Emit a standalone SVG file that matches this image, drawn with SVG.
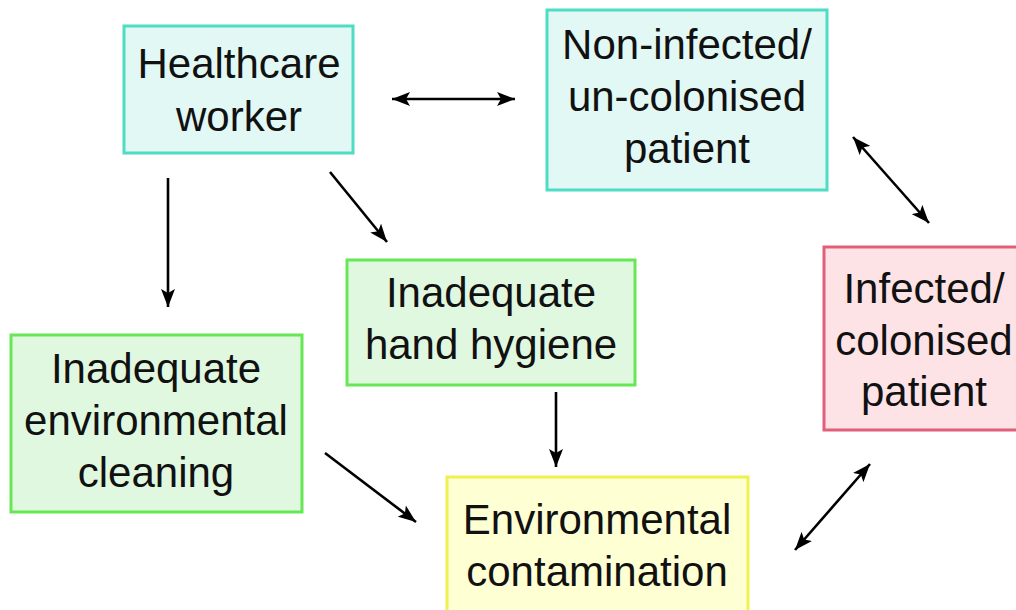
<svg xmlns="http://www.w3.org/2000/svg" width="1016" height="610" viewBox="0 0 1016 610">
<style>
text{font-family:"Liberation Sans",Arial,sans-serif;font-size:42px;fill:#111;text-anchor:middle}
.cyan{fill:#e2f8f4;stroke:#4fdcc4;stroke-width:3}
.green{fill:#e0f8e0;stroke:#66e855;stroke-width:3}
.pink{fill:#fde2e6;stroke:#e0607a;stroke-width:3}
.yellow{fill:#ffffd4;stroke:#f0f050;stroke-width:3}
.c{stroke:#000;stroke-width:2.6;fill:none;marker-end:url(#ah)}
.d{marker-start:url(#ah)}
</style>
<defs>
<marker id="ah" markerUnits="userSpaceOnUse" viewBox="0 0 18 14" refX="18" refY="7" markerWidth="18" markerHeight="14" orient="auto-start-reverse">
<path d="M0,0 L18,7 L0,14 L4,7 z" fill="#000"/>
</marker>
</defs>
<rect width="1016" height="610" fill="#fff"/>
<g id="hcw">
<rect class="cyan" x="124" y="26" width="229" height="127"/>
<text x="239" y="78">Healthcare</text>
<text x="239" y="131">worker</text>
</g>
<g id="noninf">
<rect class="cyan" x="547" y="10" width="280" height="180"/>
<text x="687" y="59">Non-infected/</text>
<text x="687" y="111">un-colonised</text>
<text x="687" y="163">patient</text>
</g>
<g id="inf">
<rect class="pink" x="824" y="247" width="196" height="183"/>
<text x="924" y="303">Infected/</text>
<text x="924" y="355">colonised</text>
<text x="924" y="406">patient</text>
</g>
<g id="hand">
<rect class="green" x="347" y="260" width="288" height="125"/>
<text x="491" y="307">Inadequate</text>
<text x="491" y="359">hand hygiene</text>
</g>
<g id="clean">
<rect class="green" x="11" y="335" width="291" height="177"/>
<text x="156" y="383">Inadequate</text>
<text x="156" y="435">environmental</text>
<text x="156" y="487">cleaning</text>
</g>
<g id="contam">
<rect class="yellow" x="447" y="477" width="301" height="140"/>
<text x="597" y="534">Environmental</text>
<text x="597" y="586">contamination</text>
</g>
<g id="connectors">
<line class="c d" x1="392" y1="99" x2="515" y2="99"/>
<line class="c" x1="168" y1="178" x2="168" y2="307"/>
<line class="c" x1="330" y1="172" x2="387" y2="242"/>
<line class="c d" x1="853" y1="137" x2="929" y2="223"/>
<line class="c" x1="556" y1="392" x2="556" y2="467"/>
<line class="c" x1="325" y1="453" x2="416" y2="522"/>
<line class="c d" x1="795" y1="550" x2="870" y2="464"/>
</g>
</svg>
